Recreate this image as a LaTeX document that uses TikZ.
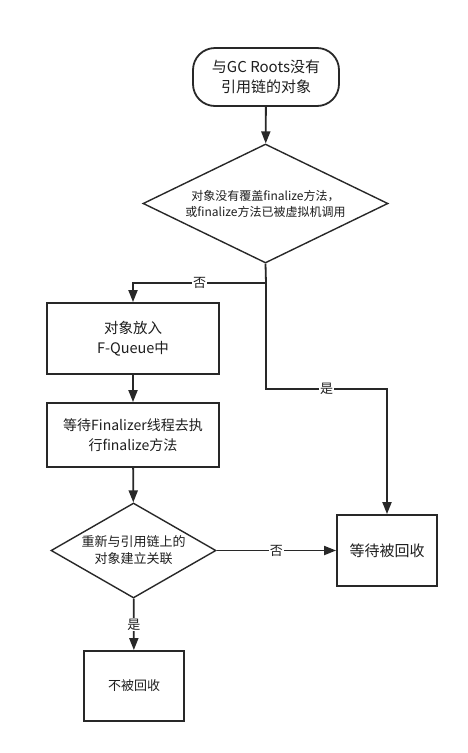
\documentclass[tikz,border=0pt]{standalone}
\usepackage{fontspec}
\setmainfont{Noto Sans CJK SC}
\usetikzlibrary{shapes.geometric,arrows.meta}
\definecolor{ln}{RGB}{40,40,40}
\definecolor{tx}{RGB}{30,30,30}
\begin{document}
\begin{tikzpicture}[x=1pt,y=-1pt,
  every node/.style={text=tx},
  boxn/.style={draw=ln,line width=1.8pt,rectangle,inner sep=0pt,align=center},
  startn/.style={draw=ln,line width=1.8pt,rectangle,rounded corners=22pt,inner sep=0pt,align=center},
  dian/.style={draw=ln,line width=1.4pt,diamond,inner sep=0pt},
  txtn/.style={align=center,inner sep=0pt},
  lab/.style={fill=white,inner sep=1pt,font=\fontsize{13pt}{15pt}\selectfont},
  conn/.style={draw=ln,line width=1.8pt,-{Triangle[length=12pt,width=9pt]}},
  plain/.style={draw=ln,line width=1.8pt}]
\fill[white] (0,0) rectangle (468,753);
\useasboundingbox (0,0) rectangle (468,753);

\node[startn,minimum width=146pt,minimum height=58pt,font=\fontsize{15pt}{20pt}\selectfont] (s) at (266,77) {与GC Roots没有\\引用链的对象};

\node[dian,minimum width=245pt,minimum height=119pt] (d1) at (265.5,203.5) {};
\node[txtn,font=\fontsize{12pt}{16pt}\selectfont] (d1t) at (d1) {对象没有覆盖finalize方法，\\或finalize方法已被虚拟机调用};

\node[boxn,minimum width=172pt,minimum height=71pt,font=\fontsize{14.5pt}{20pt}\selectfont] (b1) at (133,338.5) {对象放入\\F-Queue中};
\node[boxn,minimum width=172pt,minimum height=64pt,font=\fontsize{14pt}{20pt}\selectfont] (b2) at (133,435) {等待Finalizer线程去执\\行finalize方法};

\node[dian,minimum width=165pt,minimum height=95pt] (d2) at (133.5,550.5) {};
\node[txtn,font=\fontsize{13pt}{17pt}\selectfont] (d2t) at (d2) {重新与引用链上的\\对象建立关联};

\node[boxn,minimum width=100pt,minimum height=71pt,font=\fontsize{15pt}{20pt}\selectfont] (b4) at (387,550.5) {等待被回收};
\node[boxn,minimum width=100pt,minimum height=70pt,font=\fontsize{13pt}{18pt}\selectfont] (b5) at (134,686) {不被回收};

\coordinate (j1) at (266,283);
\coordinate (j2) at (266,389);

\draw[conn] (s) -- (d1);
\draw[plain] (d1.south) -- (j1);
\draw[conn] (j1) -| node[lab,pos=0.25] {否} (b1.north);
\draw[conn] (j1) -- (j2) -| node[lab,pos=0.25] {是} (b4.north);
\draw[conn] (b1) -- (b2);
\draw[conn] (b2) -- (d2);
\draw[conn] (d2) -- node[lab] {否} (b4);
\draw[conn] (d2) -- node[lab] {是} (b5);
\end{tikzpicture}
\end{document}
